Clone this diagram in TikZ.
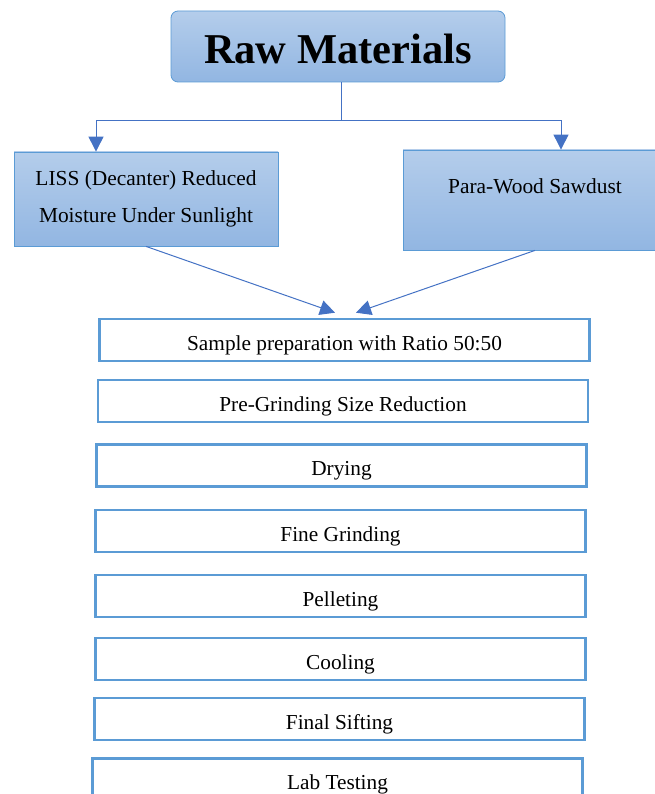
\documentclass[tikz,border=0pt]{standalone}
\usepackage{fontspec}
\setmainfont{Liberation Serif}
\usetikzlibrary{arrows.meta, positioning}

\definecolor{bordo}{HTML}{5B9BD5}
\definecolor{freccia}{HTML}{4472C4}
\definecolor{azzurroA}{HTML}{B4CDEB}
\definecolor{azzurroB}{HTML}{92B6E2}

\begin{document}
\begin{tikzpicture}[x=1pt,y=-1pt,
    rawbox/.style={draw=bordo, line width=0.8pt, rounded corners=7pt, top color=azzurroA, bottom color=azzurroB, minimum width=334pt, minimum height=71pt, text height=34pt, text depth=0pt, font=\bfseries\fontsize{42.5}{50}\selectfont},
    srcbox/.style={draw=bordo, line width=0.8pt, top color=azzurroA, bottom color=azzurroB, minimum width=264pt, align=center, font=\fontsize{21.4}{37}\selectfont},
    stepbox/.style={draw=bordo, line width=2.6pt, fill=white, minimum width=490pt, minimum height=42pt, inner sep=0pt, text height=24pt, text depth=4pt, font=\fontsize{21.3}{24}\selectfont},
    flow/.style={draw=freccia, line width=1pt, -{Triangle[length=15pt,width=15pt]}}]
    \useasboundingbox (0,0) rectangle (654,794);

    % materie prime
    \node[rawbox] (raw) at (338,46.5) {Raw Materials};

    % le due sorgenti
    \node[srcbox, minimum height=94pt] (liss) at (146,199) {LISS (Decanter) Reduced\\Moisture Under Sunlight};
    \node[srcbox, minimum height=100pt, text height=14pt, text depth=26pt] (para) at (535,200) {Para-Wood Sawdust};

    % diramazione
    \coordinate (nodo) at (341,121);
    \draw[draw=freccia, line width=1pt] (raw.south -| nodo) -- (nodo);
    \draw[flow] (nodo) -| ([xshift=-50pt]liss.north);
    \draw[flow] (nodo) -| ([xshift=26pt]para.north);

    % fasi del processo
    \node[stepbox] (s1) at (344.5,340) {Sample preparation with Ratio 50:50};
    \node[stepbox] (s2) at (343,401) {Pre-Grinding Size Reduction};
    \node[stepbox] (s3) at (341.5,465.5) {Drying};
    \node[stepbox] (s4) at (340.5,531) {Fine Grinding};
    \node[stepbox] (s5) at (340.5,596) {Pelleting};
    \node[stepbox] (s6) at (340.5,659) {Cooling};
    \node[stepbox] (s7) at (339.5,719) {Final Sifting};
    \node[stepbox] (s8) at (337.5,779.5) {Lab Testing};

    % frecce verso la miscela
    \draw[flow] (liss.south) -- ([xshift=-9.5pt,yshift=5pt]s1.north);
    \draw[flow] (para.south) -- ([xshift=11.5pt,yshift=5pt]s1.north);
\end{tikzpicture}
\end{document}
